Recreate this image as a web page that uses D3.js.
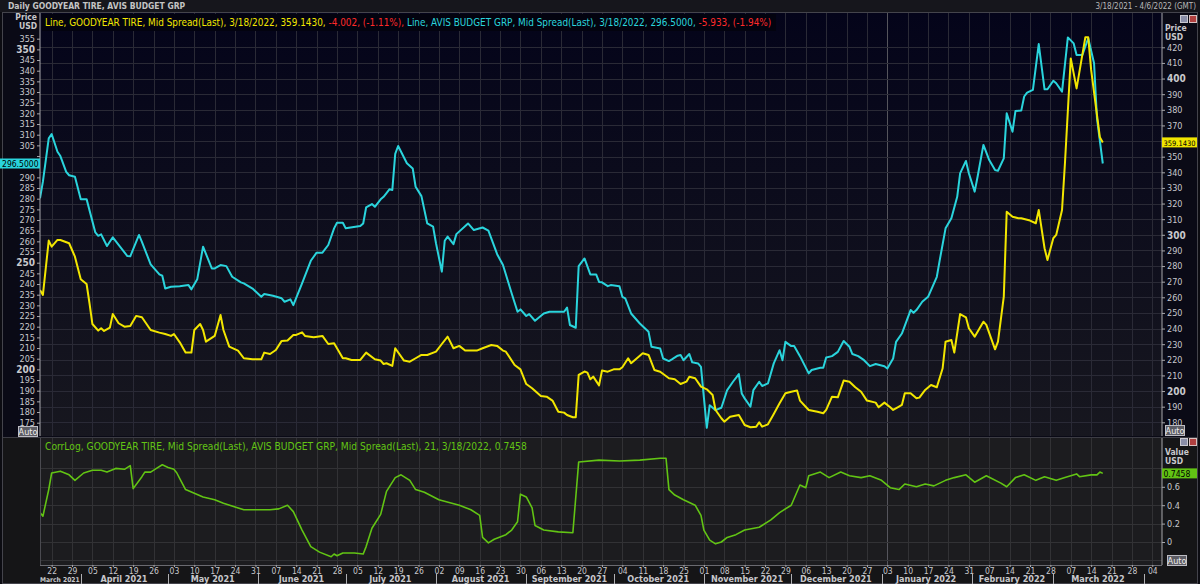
<!DOCTYPE html>
<html>
<head>
<meta charset="utf-8">
<style>
  body { margin: 0; background: #000; }
  svg { display: block; }
  text { font-family: "Liberation Sans Narrow", "DejaVu Sans Condensed", "Liberation Sans", sans-serif; }
</style>
</head>
<body>
<svg width="1200" height="584"></svg>
<script src="https://d3js.org/d3.v7.min.js"></script>
<script>

var parseDate = d3.timeParse("%Y-%m-%d");

// GOODYEAR TIRE, Mid Spread(Last) -- right axis
var goodyear = [
  ["2021-03-18",264.7],["2021-03-19",261.5],["2021-03-21",296.3],["2021-03-22",292.4],["2021-03-24",296.7],
  ["2021-03-25",296.7],["2021-03-28",294.6],["2021-03-30",286],["2021-04-01",271.5],["2021-04-03",268.5],
  ["2021-04-04",256.2],["2021-04-05",242.9],["2021-04-07",238.7],["2021-04-08",240.2],["2021-04-09",238.5],
  ["2021-04-11",240.6],["2021-04-12",249.3],["2021-04-14",243.4],["2021-04-16",241.2],["2021-04-18",241.7],
  ["2021-04-20",248.1],["2021-04-22",247.2],["2021-04-25",239.1],["2021-04-28",237.4],["2021-04-30",236.5],
  ["2021-05-02",235.3],["2021-05-03",236.5],["2021-05-05",231.2],["2021-05-07",224.6],["2021-05-09",224.6],
  ["2021-05-10",239.1],["2021-05-12",242.9],["2021-05-13",239.1],["2021-05-14",231.6],["2021-05-17",235.3],
  ["2021-05-19",248.7],["2021-05-20",239.1],["2021-05-22",228.4],["2021-05-25",225.9],["2021-05-27",221],
  ["2021-05-30",220.3],["2021-06-02",220.3],["2021-06-03",224.6],["2021-06-05",223.7],["2021-06-07",226.3],
  ["2021-06-09",232.1],["2021-06-11",232.3],["2021-06-13",235.9],["2021-06-14",235.9],["2021-06-16",237.6],
  ["2021-06-17",235.3],["2021-06-20",234.4],["2021-06-23",235.3],["2021-06-25",230.1],["2021-06-27",230.6],
  ["2021-06-30",221],["2021-07-01",221],["2021-07-03",219.9],["2021-07-06",219.9],["2021-07-08",224.6],
  ["2021-07-11",220.3],["2021-07-13",219.5],["2021-07-14",217.3],["2021-07-15",217.8],["2021-07-17",216.1],
  ["2021-07-18",227.4],["2021-07-21",219.5],["2021-07-23",218.8],["2021-07-25",221],["2021-07-27",223.1],
  ["2021-07-29",223.1],["2021-08-01",225.2],["2021-08-03",230.1],["2021-08-05",234.8],["2021-08-07",227.4],
  ["2021-08-09",228.9],["2021-08-11",225.9],["2021-08-15",225.9],["2021-08-17",227.4],["2021-08-20",229.5],
  ["2021-08-22",228.9],["2021-08-24",225.9],["2021-08-25",225.2],["2021-08-28",216.7],["2021-08-30",213.9],
  ["2021-09-01",204.5],["2021-09-03",201.8],["2021-09-06",196.9],["2021-09-08",196.4],["2021-09-10",193.9],
  ["2021-09-12",186.8],["2021-09-14",186.2],["2021-09-15",184.7],["2021-09-17",183.2],["2021-09-18",183.2],
  ["2021-09-19",210.3],["2021-09-21",212.5],["2021-09-22",211.8],["2021-09-23",207.5],["2021-09-24",209.2],
  ["2021-09-26",203.6],["2021-09-27",213.1],["2021-09-29",212.4],["2021-10-01",213.9],["2021-10-03",213.9],
  ["2021-10-04",215.2],["2021-10-06",221],["2021-10-07",217.8],["2021-10-09",221],["2021-10-11",224.2],
  ["2021-10-13",223.1],["2021-10-15",213.5],["2021-10-17",212.4],["2021-10-20",208.2],["2021-10-22",207.5],
  ["2021-10-24",204.5],["2021-10-26",206],["2021-10-27",209.2],["2021-10-29",208.2],["2021-10-31",202.8],
  ["2021-11-02",201.1],["2021-11-04",197.5],["2021-11-05",187.9],["2021-11-07",182.6],["2021-11-08",180.4],
  ["2021-11-10",183.6],["2021-11-13",184.7],["2021-11-15",178.3],["2021-11-17",176.8],["2021-11-19",177.2],
  ["2021-11-20",180],["2021-11-21",177.2],["2021-11-23",178.7],["2021-11-25",185.3],["2021-11-27",192.2],
  ["2021-11-29",198.6],["2021-12-01",199.6],["2021-12-03",200.3],["2021-12-04",193.9],["2021-12-07",187.9],
  ["2021-12-10",186.8],["2021-12-12",185.8],["2021-12-13",187.9],["2021-12-15",196.4],["2021-12-17",196],
  ["2021-12-19",206.7],["2021-12-21",206],["2021-12-23",202.4],["2021-12-25",199.6],["2021-12-27",193.9],
  ["2021-12-30",192.6],["2021-12-31",189.6],["2022-01-02",192.6],["2022-01-04",189.6],["2022-01-05",187.9],
  ["2022-01-07",190],["2022-01-08",191.1],["2022-01-09",198.6],["2022-01-11",198.6],["2022-01-13",195.4],
  ["2022-01-14",195.8],["2022-01-16",200.7],["2022-01-18",203.9],["2022-01-20",202.4],["2022-01-22",214.6],
  ["2022-01-23",231.6],["2022-01-25",232.7],["2022-01-26",224.6],["2022-01-28",249.3],["2022-01-30",247.2],
  ["2022-01-31",240.2],["2022-02-02",234.8],["2022-02-05",244.4],["2022-02-06",242.3],["2022-02-09",226.7],
  ["2022-02-10",231.6],["2022-02-12",260.4],["2022-02-13",314.8],["2022-02-15",311.6],["2022-02-17",310.6],
  ["2022-02-18",310.6],["2022-02-21",309.1],["2022-02-23",307.4],["2022-02-24",315.9],["2022-02-26",291.4],
  ["2022-02-27",283.9],["2022-03-01",297.8],["2022-03-02",299.9],["2022-03-04",315.9],["2022-03-05",345.8],
  ["2022-03-07",412.9],["2022-03-09",393.7],["2022-03-12",426.4],["2022-03-13",426.4],["2022-03-14",405.5],
  ["2022-03-16",376.7],["2022-03-17",362.4],["2022-03-18",359.143]
];

// AVIS BUDGET GRP, Mid Spread(Last) -- left axis
var avis = [
  ["2021-03-18",280.2],["2021-03-19",288],["2021-03-21",308.3],["2021-03-22",310.3],["2021-03-24",302],
  ["2021-03-25",300],["2021-03-27",292.6],["2021-03-28",291],["2021-03-30",290.3],["2021-04-01",279.8],
  ["2021-04-03",279.8],["2021-04-06",264.2],["2021-04-07",262.6],["2021-04-08",263.3],["2021-04-10",257.8],
  ["2021-04-12",261.9],["2021-04-17",253.1],["2021-04-18",253],["2021-04-21",263],["2021-04-22",259.8],
  ["2021-04-25",249.2],["2021-04-28",244.5],["2021-04-29",243.9],["2021-04-30",237.9],["2021-05-02",238.7],
  ["2021-05-05",239],["2021-05-08",239.5],["2021-05-09",237.5],["2021-05-11",242.2],["2021-05-13",257.5],
  ["2021-05-16",247.3],["2021-05-17",247.3],["2021-05-19",248.9],["2021-05-21",248.4],["2021-05-23",243.4],
  ["2021-05-26",240.8],["2021-05-27",240.3],["2021-05-30",237.9],["2021-06-02",234],["2021-06-03",235.3],
  ["2021-06-06",234.5],["2021-06-09",233.3],["2021-06-10",231.7],["2021-06-12",232.8],["2021-06-13",230.1],
  ["2021-06-16",240.3],["2021-06-19",250.9],["2021-06-21",254.7],["2021-06-23",254.7],["2021-06-25",258.3],
  ["2021-06-27",266.1],["2021-06-28",268.7],["2021-06-30",268.7],["2021-07-01",266.1],["2021-07-06",267.2],
  ["2021-07-07",268.4],["2021-07-08",275.9],["2021-07-10",277.5],["2021-07-11",276.2],["2021-07-13",279.7],
  ["2021-07-14",280.9],["2021-07-16",284.4],["2021-07-17",284.1],["2021-07-18",301],["2021-07-19",304.7],
  ["2021-07-22",296.6],["2021-07-24",294.2],["2021-07-25",285.6],["2021-07-27",281.2],["2021-07-29",268.4],
  ["2021-07-31",266.9],["2021-08-01",259.1],["2021-08-03",245.8],["2021-08-04",260.3],["2021-08-05",262.2],
  ["2021-08-07",258.7],["2021-08-08",263.4],["2021-08-12",268.4],["2021-08-14",265.3],["2021-08-17",266.5],
  ["2021-08-19",265],["2021-08-22",254],["2021-08-24",248.9],["2021-08-27",235.6],["2021-08-29",227],
  ["2021-08-30",228.1],["2021-09-01",225],["2021-09-02",225.9],["2021-09-04",222.8],["2021-09-07",226.2],
  ["2021-09-09",227],["2021-09-14",227],["2021-09-15",229],["2021-09-16",220.8],["2021-09-18",219.5],
  ["2021-09-19",248.4],["2021-09-21",252],["2021-09-23",244.5],["2021-09-25",244.5],["2021-09-26",241],
  ["2021-09-27",240.8],["2021-09-29",239],["2021-09-30",239.5],["2021-10-03",239],["2021-10-04",234],
  ["2021-10-05",233.3],["2021-10-07",226.2],["2021-10-10",221.5],["2021-10-13",217.6],["2021-10-14",210.6],
  ["2021-10-17",209.8],["2021-10-18",205.1],["2021-10-20",203.9],["2021-10-21",204.7],["2021-10-23",206.4],
  ["2021-10-24",206.7],["2021-10-25",204.3],["2021-10-27",207.2],["2021-10-28",203.3],["2021-10-30",202.8],
  ["2021-10-31",201.2],["2021-11-02",172.6],["2021-11-03",183.2],["2021-11-05",180.9],["2021-11-07",182],
  ["2021-11-09",190.3],["2021-11-11",194.2],["2021-11-13",197.8],["2021-11-14",188.7],["2021-11-15",186.4],
  ["2021-11-17",182.5],["2021-11-18",190.3],["2021-11-20",194.2],["2021-11-21",192.2],["2021-11-23",193.4],
  ["2021-11-25",202.8],["2021-11-27",209],["2021-11-28",204.3],["2021-11-29",212.9],["2021-12-01",210.9],
  ["2021-12-02",210.9],["2021-12-04",206.2],["2021-12-07",198.1],["2021-12-08",199.7],["2021-12-11",200.8],
  ["2021-12-12",200.8],["2021-12-13",205.6],["2021-12-15",206.2],["2021-12-17",208.2],["2021-12-19",213.3],
  ["2021-12-21",210.6],["2021-12-22",207.2],["2021-12-24",206.2],["2021-12-26",204.3],["2021-12-28",201.5],
  ["2021-12-30",202.5],["2022-01-02",201.5],["2022-01-03",200.4],["2022-01-05",205.1],["2022-01-06",212.9],
  ["2022-01-08",216.8],["2022-01-11",227.8],["2022-01-12",226.5],["2022-01-13",227.8],["2022-01-15",231.7],
  ["2022-01-17",234],["2022-01-20",243.4],["2022-01-21",251.2],["2022-01-23",266.1],["2022-01-25",270.8],
  ["2022-01-27",280.9],["2022-01-28",291.9],["2022-01-30",297.7],["2022-01-31",291.9],["2022-02-02",283.3],
  ["2022-02-03",290.3],["2022-02-05",305.2],["2022-02-07",298.1],["2022-02-09",293.4],["2022-02-10",293.1],
  ["2022-02-12",298.9],["2022-02-13",320],["2022-02-15",311.4],["2022-02-16",321.1],["2022-02-18",321.3],
  ["2022-02-19",327.9],["2022-02-20",329.7],["2022-02-22",331],["2022-02-24",352.5],["2022-02-26",331.3],
  ["2022-02-27",331.3],["2022-03-01",335.3],["2022-03-02",334.1],["2022-03-04",330.2],["2022-03-06",355.6],
  ["2022-03-08",352.8],["2022-03-09",347.4],["2022-03-11",347.4],["2022-03-13",355.2],["2022-03-15",343.5],
  ["2022-03-16",317.7],["2022-03-18",296.5]
];

// CorrLog, 21 periods
var corr = [
  ["2021-03-18",0.32],["2021-03-19",0.28],["2021-03-21",0.57],["2021-03-22",0.75],["2021-03-25",0.77],
  ["2021-03-28",0.73],["2021-03-30",0.67],["2021-04-02",0.75],["2021-04-05",0.78],["2021-04-08",0.78],
  ["2021-04-10",0.76],["2021-04-13",0.80],["2021-04-16",0.79],["2021-04-18",0.83],["2021-04-19",0.58],
  ["2021-04-22",0.71],["2021-04-23",0.76],["2021-04-25",0.76],["2021-04-27",0.80],["2021-04-29",0.84],
  ["2021-05-01",0.81],["2021-05-03",0.79],["2021-05-04",0.75],["2021-05-05",0.69],["2021-05-07",0.57],
  ["2021-05-10",0.53],["2021-05-13",0.49],["2021-05-17",0.46],["2021-05-20",0.42],["2021-05-24",0.38],
  ["2021-05-27",0.35],["2021-06-01",0.35],["2021-06-05",0.35],["2021-06-08",0.36],["2021-06-11",0.40],
  ["2021-06-13",0.33],["2021-06-16",0.13],["2021-06-19",-0.05],["2021-06-22",-0.11],["2021-06-26",-0.16],
  ["2021-06-27",-0.13],["2021-06-28",-0.15],["2021-06-30",-0.12],["2021-07-04",-0.12],["2021-07-07",-0.13],
  ["2021-07-08",-0.05],["2021-07-10",0.15],["2021-07-13",0.30],["2021-07-15",0.55],["2021-07-18",0.70],
  ["2021-07-20",0.73],["2021-07-23",0.67],["2021-07-25",0.57],["2021-07-28",0.54],["2021-08-02",0.46],
  ["2021-08-09",0.40],["2021-08-13",0.35],["2021-08-16",0.29],["2021-08-17",0.05],["2021-08-19",-0.01],
  ["2021-08-21",0.03],["2021-08-25",0.08],["2021-08-27",0.13],["2021-08-29",0.22],["2021-08-30",0.52],
  ["2021-09-01",0.49],["2021-09-03",0.37],["2021-09-04",0.18],["2021-09-07",0.13],["2021-09-12",0.11],
  ["2021-09-17",0.10],["2021-09-19",0.87],["2021-09-26",0.89],["2021-10-03",0.88],["2021-10-10",0.89],
  ["2021-10-17",0.91],["2021-10-19",0.91],["2021-10-20",0.57],["2021-10-22",0.51],["2021-10-25",0.46],
  ["2021-10-29",0.40],["2021-10-31",0.29],["2021-11-01",0.13],["2021-11-03",0.02],["2021-11-05",-0.02],
  ["2021-11-07",0.0],["2021-11-09",0.05],["2021-11-12",0.08],["2021-11-15",0.13],["2021-11-20",0.16],
  ["2021-11-24",0.24],["2021-11-27",0.32],["2021-12-01",0.40],["2021-12-04",0.62],["2021-12-06",0.59],
  ["2021-12-07",0.72],["2021-12-11",0.76],["2021-12-14",0.70],["2021-12-18",0.76],["2021-12-21",0.72],
  ["2021-12-25",0.70],["2021-12-28",0.72],["2022-01-01",0.67],["2022-01-04",0.59],["2022-01-07",0.57],
  ["2022-01-09",0.63],["2022-01-13",0.60],["2022-01-16",0.63],["2022-01-19",0.61],["2022-01-23",0.67],
  ["2022-01-26",0.70],["2022-01-30",0.73],["2022-02-02",0.65],["2022-02-06",0.72],["2022-02-11",0.64],
  ["2022-02-13",0.60],["2022-02-16",0.70],["2022-02-19",0.73],["2022-02-23",0.67],["2022-02-26",0.71],
  ["2022-03-02",0.67],["2022-03-05",0.70],["2022-03-09",0.74],["2022-03-10",0.71],["2022-03-14",0.73],
  ["2022-03-16",0.73],["2022-03-17",0.76],["2022-03-18",0.7458]
];

var leftTicks = d3.range(175, 356, 5);
var rightTicks = d3.range(180, 421, 10);
var corrTicks = [0.8, 0.6, 0.4, 0.2, 0, -0.2];
var corrLabels = [0.6, 0.4, 0.2, 0];

var titleText = "Daily GOODYEAR TIRE, AVIS BUDGET GRP";
var rangeText = "3/18/2021 - 4/6/2022 (GMT)";
var header = [
  ["Line, GOODYEAR TIRE, Mid Spread(Last), 3/18/2022, 359.1430, ", "#f2e600"],
  ["-4.002, (-1.11%), ", "#ff2a2a"],
  ["Line, AVIS BUDGET GRP, Mid Spread(Last), 3/18/2022, 296.5000, ", "#2ad4dc"],
  ["-5.933, (-1.94%)", "#ff2a2a"]
];
var corrHeader = "CorrLog, GOODYEAR TIRE, Mid Spread(Last), AVIS BUDGET GRP, Mid Spread(Last),  21, 3/18/2022, 0.7458";

var YELLOW = "#f2e600", CYAN = "#2ad4dc", GREEN = "#62c414";

[goodyear, avis, corr].forEach(function(s) {
  s.forEach(function(d) { d[0] = parseDate(d[0]); });
});

var L = 40, R = 1162;
var top1 = 13, bot1 = 436, top2 = 438, bot2 = 565;

var x = d3.scaleTime()
    .domain([new Date(2021, 2, 18), new Date(2022, 3, 7, 8)])
    .range([L, R]);
var yL = d3.scaleLinear().domain([175, 355]).range([422.7, 38.7]);
var yR = d3.scaleLinear().domain([180, 420]).range([422.3, 47.3]);
var yC = d3.scaleLinear().domain([0, 0.6]).range([542, 486.8]);

var svg = d3.select("svg");
var defs = svg.append("defs");

var grad = defs.append("linearGradient").attr("id", "bg1")
    .attr("x1", 0).attr("y1", 0).attr("x2", 0).attr("y2", 1);
grad.append("stop").attr("offset", "0%").attr("stop-color", "#04041a");
grad.append("stop").attr("offset", "100%").attr("stop-color", "#17171f");

defs.append("clipPath").attr("id", "clip1").append("rect")
    .attr("x", L).attr("y", top1).attr("width", R - L).attr("height", bot1 - top1);
defs.append("clipPath").attr("id", "clip2").append("rect")
    .attr("x", L).attr("y", top2).attr("width", R - L).attr("height", bot2 - top2);

// window background
svg.append("rect").attr("width", 1200).attr("height", 584).attr("fill", "#0c0c12");
svg.append("rect").attr("x", 2).attr("y", 12).attr("width", 1196).attr("height", 426).attr("fill", "#0a0a16");
svg.append("rect").attr("x", 2).attr("y", 438).attr("width", 1196).attr("height", 146).attr("fill", "#151517");

// title bar
svg.append("rect").attr("width", 1200).attr("height", 12).attr("fill", "#16161c");
svg.append("text").attr("x", 8).attr("y", 9).attr("fill", "#c4c4c4")
    .attr("font-size", 8.5).attr("font-weight", "bold").text(titleText);
svg.append("text").attr("x", 1196).attr("y", 9).attr("fill", "#b8b8b8")
    .attr("text-anchor", "end").attr("font-size", 8).text(rangeText);

// plot backgrounds
svg.append("rect").attr("x", L).attr("y", top1).attr("width", R - L).attr("height", bot1 - top1)
    .attr("fill", "url(#bg1)");
svg.append("rect").attr("x", L).attr("y", top2).attr("width", R - L).attr("height", bot2 - top2)
    .attr("fill", "#1c1c1f");

// gridlines
var mondays = d3.timeMonday.range(x.domain()[0], x.domain()[1]);
var yearLine = new Date(2022, 0, 3);

function vgrid(y0, y1, col) {
  svg.append("g").selectAll("line").data(mondays).join("line")
      .attr("x1", function(d) { return Math.round(x(d)) + 0.5; })
      .attr("x2", function(d) { return Math.round(x(d)) + 0.5; })
      .attr("y1", y0).attr("y2", y1)
      .attr("stroke", function(d) { return +d === +yearLine ? "#55555c" : col; })
      .attr("stroke-width", 1);
}
vgrid(top1, bot1, "#2a2a36");
vgrid(top2, bot2, "#323235");

svg.append("g").selectAll("line").data(rightTicks).join("line")
    .attr("x1", L).attr("x2", R)
    .attr("y1", function(d) { return Math.round(yR(d)) + 0.5; })
    .attr("y2", function(d) { return Math.round(yR(d)) + 0.5; })
    .attr("stroke", "#2a2a36");
svg.append("g").selectAll("line").data(corrTicks).join("line")
    .attr("x1", L).attr("x2", R)
    .attr("y1", function(d) { return Math.round(yC(d)) + 0.5; })
    .attr("y2", function(d) { return Math.round(yC(d)) + 0.5; })
    .attr("stroke", "#323235");

// lines
function drawLine(data, y, col, w, clip) {
  var line = d3.line()
      .x(function(d) { return x(d[0]); })
      .y(function(d) { return y(d[1]); });
  svg.append("path").datum(data)
      .attr("clip-path", "url(#" + clip + ")")
      .attr("fill", "none").attr("stroke", col).attr("stroke-width", w)
      .attr("stroke-linejoin", "round")
      .attr("d", line);
}
drawLine(avis, yL, CYAN, 2, "clip1");
drawLine(goodyear, yR, YELLOW, 2, "clip1");
drawLine(corr, yC, GREEN, 1.6, "clip2");

// header legend (top panel)
svg.append("rect").attr("x", 42).attr("y", 14).attr("width", 734).attr("height", 17).attr("fill", "#03030f");
var ht = svg.append("text").attr("x", 45).attr("y", 26).attr("font-size", 12);
header.forEach(function(h) { ht.append("tspan").attr("fill", h[1]).text(h[0]); });
var hw = ht.node().getComputedTextLength();
if (hw > 0) ht.attr("font-size", 12 * 727 / hw);

var ct = svg.append("text").attr("x", 45).attr("y", 450).attr("font-size", 11.5)
    .attr("fill", GREEN).text(corrHeader);
var cw = ct.node().getComputedTextLength();
if (cw > 0) ct.attr("font-size", 11.5 * 482 / cw);

// axes
function styleAxis(g, boldFn) {
  g.select(".domain").attr("stroke", "#a8a8ac");
  g.selectAll(".tick line").attr("stroke", "#a8a8ac");
  g.selectAll(".tick text").attr("fill", "#c8c8cc")
      .attr("font-size", function(d) { return boldFn(d) ? 10 : 9; })
      .attr("font-weight", function(d) { return boldFn(d) ? "bold" : "normal"; });
}

var axL = svg.append("g").attr("transform", "translate(" + L + ",0)")
    .call(d3.axisLeft(yL).tickValues(leftTicks).tickSize(3).tickPadding(2).tickSizeOuter(0));
axL.select(".domain").attr("d", "M0," + top1 + "V" + bot1);
styleAxis(axL, function(d) { return d % 50 === 0; });

var axR = svg.append("g").attr("transform", "translate(" + R + ",0)")
    .call(d3.axisRight(yR).tickValues(rightTicks).tickSize(3).tickPadding(2).tickSizeOuter(0));
axR.select(".domain").attr("d", "M0," + top1 + "V" + bot1);
styleAxis(axR, function(d) { return d % 100 === 0; });

var axC = svg.append("g").attr("transform", "translate(" + R + ",0)")
    .call(d3.axisRight(yC).tickValues(corrLabels)
      .tickSize(3).tickPadding(2).tickSizeOuter(0).tickFormat(d3.format("")));
axC.select(".domain").attr("d", "M0," + top2 + "V" + bot2);
styleAxis(axC, function() { return false; });

// panel borders
svg.append("line").attr("x1", 2).attr("x2", 1198).attr("y1", 437.5).attr("y2", 437.5).attr("stroke", "#3c3c44");
svg.append("line").attr("x1", L).attr("x2", R).attr("y1", bot2 + 0.5).attr("y2", bot2 + 0.5).attr("stroke", "#6a6a70");
svg.append("line").attr("x1", L + 0.5).attr("x2", L + 0.5).attr("y1", top2).attr("y2", bot2).attr("stroke", "#4a4a50");
svg.append("rect").attr("x", 2.5).attr("y", 12.5).attr("width", 1195).attr("height", 571)
    .attr("fill", "none").attr("stroke", "#44444c");

// axis unit labels
function unitLabel(xp, yp, anchor, lines) {
  lines.forEach(function(t, i) {
    svg.append("text").attr("x", xp).attr("y", yp + i * 9).attr("text-anchor", anchor)
        .attr("fill", "#c8c8cc").attr("font-size", 8.5).attr("font-weight", "bold").text(t);
  });
}
unitLabel(37, 20, "end", ["Price", "USD"]);
unitLabel(1165, 31, "start", ["Price", "USD"]);
unitLabel(1165, 455, "start", ["Value", "USD"]);

// last value tags: hide the tick labels they cover
function tag(axisG, xp, yp, w, bg, txt, anchor) {
  axisG.selectAll(".tick").filter(function() {
    var t = this.getAttribute("transform").match(/translate\(([^,]+),([^)]+)\)/);
    return t && Math.abs(+t[2] - yp) < 8;
  }).select("text").remove();
  svg.append("rect").attr("x", xp).attr("y", yp - 5).attr("width", w).attr("height", 10).attr("fill", bg);
  var t = svg.append("text").attr("x", anchor === "end" ? xp + w - 1.5 : xp + 1.5).attr("y", yp + 3.5)
      .attr("text-anchor", anchor).attr("font-size", 8.5).attr("fill", "#000").text(txt);
  var len = t.node().getComputedTextLength(), room = w - 3;
  if (len > room) t.attr("font-size", 8.5 * room / len);
}
tag(axL, 0, yL(296.5), 40, CYAN, "296.5000", "end");
tag(axR, R, yR(359.143), 35, YELLOW, "359.1430", "start");
tag(axC, R, yC(0.7458), 35, GREEN, "0.7458", "start");

// "Auto" buttons
function autoBtn(xp, yp) {
  svg.append("rect").attr("x", xp + 0.5).attr("y", yp + 0.5).attr("width", 19).attr("height", 10)
      .attr("fill", "#5c5c64").attr("stroke", "#bdbdc4");
  svg.append("text").attr("x", xp + 10).attr("y", yp + 8.5).attr("text-anchor", "middle")
      .attr("font-size", 9).attr("fill", "#eee").text("Auto");
}
autoBtn(18, 426);
autoBtn(1165, 425);
autoBtn(1167, 555);

// window icons
[[1180, 15], [1180, 438]].forEach(function(p) {
  svg.append("rect").attr("x", p[0] + 0.5).attr("y", p[1] + 0.5).attr("width", 7).attr("height", 7)
      .attr("fill", "#8a8ea8").attr("stroke", "#c8c8d0");
  svg.append("rect").attr("x", p[0] + 9.5).attr("y", p[1] + 0.5).attr("width", 7).attr("height", 7)
      .attr("fill", "#b04040").attr("stroke", "#d8c0c0");
});

// bottom time axis
var axB = svg.append("g").attr("transform", "translate(0," + bot2 + ")")
    .call(d3.axisBottom(x).tickValues(mondays).tickSize(2).tickPadding(1)
      .tickFormat(d3.timeFormat("%d")));
axB.select(".domain").remove();
axB.selectAll(".tick line").attr("stroke", "#a8a8ac");
axB.selectAll(".tick text").attr("fill", "#c8c8cc").attr("font-size", 8.5);

var months = d3.timeMonth.range(new Date(2021, 3, 1), x.domain()[1]);
svg.append("g").selectAll("line").data(months).join("line")
    .attr("x1", function(d) { return Math.round(x(d)) + 0.5; })
    .attr("x2", function(d) { return Math.round(x(d)) + 0.5; })
    .attr("y1", bot2 + 9).attr("y2", 584)
    .attr("stroke", "#b0b0b4");

function monthSpan(d) {
  var a = Math.max(x(d), L), b = Math.min(x(d3.timeMonth.offset(d3.timeMonth.floor(d), 1)), R);
  return [a, b];
}
var monthStarts = [x.domain()[0]].concat(months).filter(function(d) {
  var s = monthSpan(d); return s[1] - s[0] > 30;
});
svg.append("g").selectAll("text").data(monthStarts).join("text")
    .attr("x", function(d) { var s = monthSpan(d); return (s[0] + s[1]) / 2 - 0.5; })
    .attr("y", 582).attr("text-anchor", "middle")
    .attr("fill", "#c8c8cc").attr("font-size", 9).attr("font-weight", "bold")
    .text(d3.timeFormat("%B %Y"))
    .each(function(d) {
      var s = monthSpan(d), room = s[1] - s[0] - 1;
      var len = this.getComputedTextLength();
      if (len > room) d3.select(this).attr("font-size", 9 * room / len);
    });

</script>
</body>
</html>
